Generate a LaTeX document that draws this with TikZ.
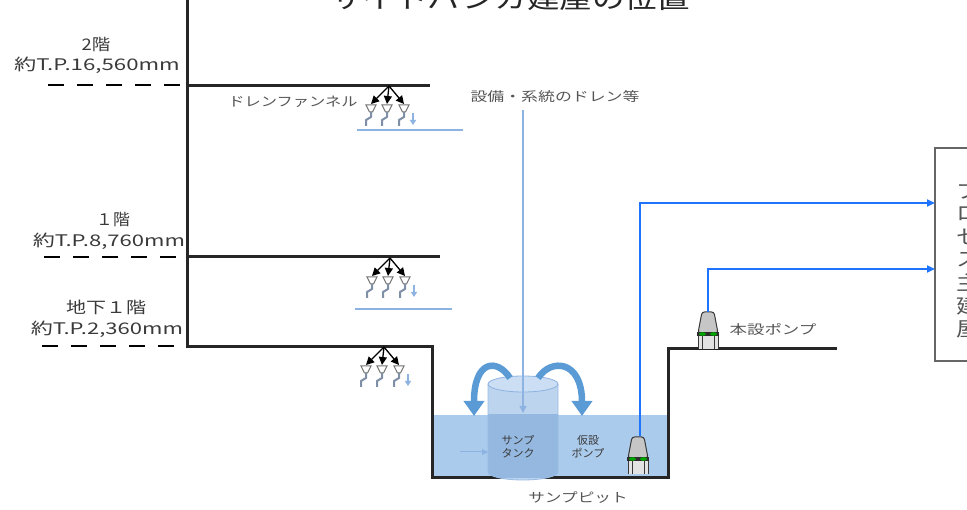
\documentclass[tikz,border=0pt]{standalone}
\usepackage{fontspec}
\setmainfont{Noto Sans CJK JP}
\usetikzlibrary{arrows.meta}
\definecolor{flowblue}{HTML}{1F74FF}
\definecolor{softblue}{HTML}{5B9BD5}
\definecolor{paleblue}{HTML}{8DB3E2}
\definecolor{waterblue}{HTML}{ABCBEC}
\definecolor{tankup}{HTML}{BCD4EE}
\definecolor{tankdown}{HTML}{94B8E0}
\definecolor{tanktop}{HTML}{CCDEF3}
\definecolor{labelgray}{HTML}{3A3A3A}
\definecolor{softgray}{HTML}{555555}
\definecolor{pipegray}{HTML}{7F8FA6}
\newcommand{\wide}[2]{\scalebox{#1}[1]{#2}}
\begin{document}
\begin{tikzpicture}[x=1pt,y=-1pt,
  wall/.style={line width=3pt, black!85},
  levelmark/.style={line width=2.8pt, dash pattern=on 16pt off 13pt, black},
  flowline/.style={flowblue, line width=2pt, -{Triangle[length=8pt,width=7pt]}},
  drainline/.style={paleblue, line width=1.2pt},
  bigturn/.style={softblue, line width=6.5pt, -{Triangle[length=15pt,width=20pt]}},
  floorlbl/.style={inner sep=0pt, text=labelgray, font=\fontsize{16}{16}\selectfont},
  smalllbl/.style={inner sep=0pt, text=softgray, font=\fontsize{13}{13}\selectfont},
  tanklbl/.style={inner sep=0pt, text=labelgray, font=\fontsize{11}{11}\selectfont},
  funnels/.pic={
    \foreach \dx in {-18,-2,15}{
      \draw[black, line width=1.3pt, -{Triangle[length=8pt,width=8pt]}] (0,0) -- (\dx,18);
      \draw[gray!90!black, fill=white, line width=1pt] (\dx-5,19) -- (\dx+5,19) -- (\dx+1.5,26) -- (\dx-1.5,26) -- cycle;
      \draw[pipegray, line width=2pt] (\dx,26) -- (\dx,31) -- (\dx-5,34) -- (\dx-5,40);
    }
    \draw[paleblue, line width=1.4pt, -{Triangle[length=5pt,width=6pt]}] (24,27) -- (24,39);
  },
  pumpicon/.pic={
    \fill[gray!22] (-10,-13) rectangle (10,0);
    \draw[gray!45!black, line width=1pt] (-10,-13) -- (-10,0) (-6,-13) -- (-6,0) (6,-13) -- (6,0) (10,-13) -- (10,0);
    \draw[gray!45!black, fill=gray!45, line width=1pt, rounded corners=2.5pt]
      (-10,-16) -- (-6,-37) -- (6,-37) -- (10,-16) -- cycle;
    \fill[gray!35!black] (-11,-17) rectangle (11,-13);
    \fill[green!65!black] (-5.5,-15) ellipse (3.5 and 1.8);
    \fill[green!65!black] (5.5,-15) ellipse (3.5 and 1.8);
  }
]
\useasboundingbox (0,0) rectangle (967,510);
\clip (0,0) rectangle (967,510);

% title, cut by the top edge
\node[anchor=base, inner sep=0pt, text=black!85, font=\fontsize{26}{26}\selectfont] (title) at (510,9) {\wide{1.25}{サイトバンカ建屋の位置}};

% water in the sump pit
\fill[waterblue] (432,415) rectangle (668,478);

% building section: wall, floors and the pit
\draw[wall] (187,0) -- (187,347) -- (432,347) -- (432,478) -- (668,478) -- (668,349) -- (837,349);
\draw[wall] (187,86) -- (430,86);
\draw[wall] (187,257) -- (440,257);

% floor levels
\draw[levelmark] (48,85) -- (187,85);
\draw[levelmark] (44,257) -- (187,257);
\draw[levelmark] (42,346) -- (187,346);
\node[floorlbl] (f2a) at (96,45) {\wide{1.15}{2階}};
\node[floorlbl] (f2b) at (97,65) {\wide{1.39}{約T.P.16,560mm}};
\node[floorlbl] (f1a) at (113,220) {\wide{1.05}{１階}};
\node[floorlbl] (f1b) at (109,241) {\wide{1.38}{約T.P.8,760mm}};
\node[floorlbl] (fb1a) at (106,307) {\wide{1.25}{地下１階}};
\node[floorlbl] (fb1b) at (107,329) {\wide{1.38}{約T.P.2,360mm}};

% drain funnels on each floor
\pic at (389,86) {funnels};
\pic at (390,258) {funnels};
\pic at (384,347) {funnels};
\draw[drainline] (357,130) -- (463,130);
\draw[drainline] (355,309) -- (452,309);
\node[smalllbl] (funnel) at (293,102) {\wide{1.25}{ドレンファンネル}};
\node[smalllbl] (equip) at (555,97) {\wide{1.3}{設備・系統のドレン等}};

% sump tank
\fill[tankup] (488,384) -- (488,472) arc (180:0:35 and 8) -- (558,384) -- cycle;
\begin{scope}
  \clip (432,415) rectangle (668,478);
  \fill[tankdown] (488,384) -- (488,472) arc (180:0:35 and 8) -- (558,384) -- cycle;
\end{scope}
\draw[paleblue!90, line width=0.8pt] (488,384) -- (488,472) arc (180:0:35 and 8) -- (558,384);
\draw[paleblue, fill=tanktop, line width=0.8pt] (523,384) ellipse (35 and 8);
\coordinate (tankin) at (523,413);
\coordinate (equipdrop) at (523,110);
\draw[drainline, -{Triangle[length=7pt,width=7pt]}] (equipdrop) -- (tankin);
\coordinate (sidein) at (460,452);
\coordinate (tankside) at (488,452);
\draw[paleblue, line width=1pt, -{Triangle[length=6pt,width=6pt]}] (sidein) -- (tankside);
\node[tanklbl, align=center] (tanktxt) at (518,447) {サンプ\\[2pt]タンク};

% overflow arrows from the tank top
\draw[bigturn] (510,378) .. controls (497,358) and (474,360) .. (474,416);
\draw[bigturn] (538,378) .. controls (551,358) and (582,360) .. (582,416);

% pumps
\node[tanklbl, align=center] (tptxt) at (588,447) {仮設\\[2pt]ポンプ};
\coordinate (tpump) at (638,474);
\pic at (tpump) {pumpicon};
\coordinate (tpumptop) at (640,436);
\coordinate (ppump) at (708,349);
\pic at (ppump) {pumpicon};
\coordinate (ppumptop) at (708,312);
\node[smalllbl] (pptxt) at (773,330) {\wide{1.34}{本設ポンプ}};
\node[smalllbl, anchor=south] (pittxt) at (578,504) {\wide{1.28}{サンプピット}};

% process building box
\draw[gray!80!black, line width=1.5pt] (990,148) -- (935,148) -- (935,361) -- (990,361);
\coordinate (boxin1) at (935,203);
\coordinate (boxin2) at (935,269);
\foreach \ch [count=\i] in {プ,ロ,セ,ス,主,建,屋}{
  \node[smalllbl, font=\fontsize{20}{20}\selectfont] (v\i) at (968,168+23*\i) {\wide{1.2}{\ch}};
}

% discharge lines
\draw[flowline] (tpumptop) |- (boxin1);
\draw[flowline] (ppumptop) |- (boxin2);
\end{tikzpicture}
\end{document}
